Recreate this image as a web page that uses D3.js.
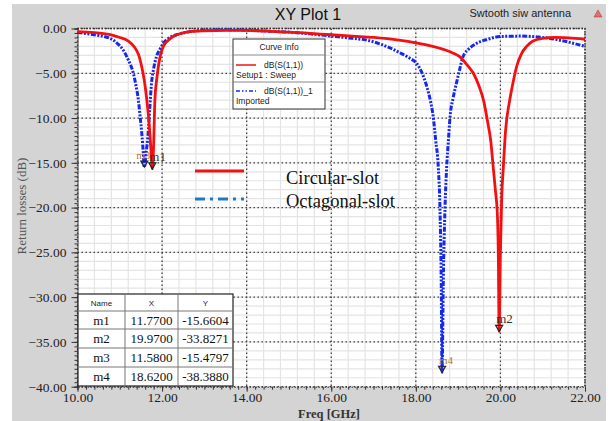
<!DOCTYPE html>
<html>
<head>
<meta charset="utf-8">
<script src="https://cdn.jsdelivr.net/npm/d3@7"></script>
<style>
  body { margin: 0; background: #fff; }
  svg { display: block; }
</style>
</head>
<body>
<div id="chart"></div>
<script>
// Circular-slot (red) return loss, dB
const circFreq = [10.0, 10.4, 10.8, 11.0, 11.2, 11.35, 11.45, 11.52, 11.58, 11.64, 11.70, 11.74, 11.77, 11.80, 11.83, 11.87, 11.91, 11.96, 12.03, 12.15, 12.26, 12.45, 12.66, 13.0, 13.5, 14.0, 14.5, 15.0, 15.5, 16.0, 16.5, 17.0, 17.6, 18.0, 18.4, 18.7, 18.9, 19.05, 19.2, 19.36, 19.5, 19.6, 19.7, 19.77, 19.83, 19.88, 19.93, 19.95, 19.97, 20.0, 20.03, 20.07, 20.12, 20.22, 20.3, 20.38, 20.5, 20.62, 20.77, 21.0, 21.3, 21.6, 22.0];
const circDb = [-0.35, -0.45, -0.7, -1.0, -1.4, -2.1, -3.0, -4.3, -5.8, -8.0, -11.0, -13.8, -15.66, -13.0, -8.0, -5.8, -4.3, -3.0, -2.0, -1.3, -0.9, -0.55, -0.35, -0.25, -0.2, -0.22, -0.3, -0.4, -0.55, -0.7, -0.85, -1.0, -1.3, -1.6, -2.0, -2.4, -2.8, -3.2, -4.0, -5.0, -6.5, -8.0, -10.5, -12.5, -15.5, -18.0, -21.0, -25.0, -33.83, -25.0, -19.0, -15.4, -11.5, -8.0, -6.0, -4.3, -2.8, -2.0, -1.4, -1.1, -1.0, -1.05, -1.2];

// Octagonal-slot (blue) return loss, dB
const octFreq = [10.0, 10.4, 10.77, 10.95, 11.08, 11.2, 11.32, 11.38, 11.44, 11.48, 11.52, 11.55, 11.58, 11.62, 11.67, 11.71, 11.75, 11.80, 11.87, 11.95, 12.03, 12.15, 12.34, 12.5, 12.66, 13.0, 13.5, 14.0, 14.5, 15.0, 15.5, 16.0, 16.5, 16.84, 17.2, 17.62, 17.85, 18.02, 18.15, 18.26, 18.35, 18.41, 18.47, 18.53, 18.57, 18.60, 18.62, 18.65, 18.69, 18.73, 18.77, 18.81, 18.88, 18.96, 19.04, 19.12, 19.25, 19.44, 19.7, 19.99, 20.5, 21.0, 21.5, 22.0];
const octDb = [-0.45, -0.7, -1.1, -1.7, -2.4, -3.5, -5.0, -6.3, -8.0, -9.8, -11.7, -13.5, -15.48, -14.0, -11.7, -8.8, -6.1, -4.5, -3.1, -2.3, -1.65, -1.1, -0.7, -0.5, -0.35, -0.2, -0.15, -0.2, -0.3, -0.4, -0.6, -0.85, -1.1, -1.3, -1.8, -2.7, -3.3, -3.9, -5.0, -6.5, -8.2, -9.8, -12.5, -15.4, -20.0, -28.0, -38.39, -28.0, -20.0, -15.4, -12.5, -9.8, -7.8, -6.1, -4.5, -3.1, -2.3, -1.65, -1.2, -0.9, -0.85, -1.0, -1.4, -2.0];

// markers
const markerNames = ["m1", "m2", "m3", "m4"];
const markerX = [11.77, 19.97, 11.58, 18.62];
const markerY = [-15.6604, -33.8271, -15.4797, -38.3880];

const xTicks = [10, 12, 14, 16, 18, 20, 22];
const yTicks = [0, -5, -10, -15, -20, -25, -30, -35, -40];

const W = 611, H = 421;
const svg = d3.select("#chart").append("svg")
    .attr("width", W).attr("height", H);

// grey panel
svg.append("rect").attr("x", 12).attr("y", 4).attr("width", 594).attr("height", 417)
    .attr("fill", "#d4d4d4");

const x = d3.scaleLinear().domain([10, 22]).range([77.5, 585]);
const y = d3.scaleLinear().domain([-40, 0]).range([386.7, 28.5]);

// plot area
svg.append("rect")
    .attr("x", x(10)).attr("y", y(0))
    .attr("width", x(22) - x(10)).attr("height", y(-40) - y(0))
    .attr("fill", "#fff");

// minor grid
const minorX = d3.range(10, 22.001, 0.4);
const minorY = d3.range(-40, 0.001, 1);
svg.append("g").selectAll("line").data(minorX).enter().append("line")
    .attr("x1", d => x(d)).attr("x2", d => x(d))
    .attr("y1", y(0)).attr("y2", y(-40))
    .attr("stroke", "#e4e4e4").attr("stroke-width", 1.2);
svg.append("g").selectAll("line").data(minorY).enter().append("line")
    .attr("x1", x(10)).attr("x2", x(22))
    .attr("y1", d => y(d)).attr("y2", d => y(d))
    .attr("stroke", "#e4e4e4").attr("stroke-width", 1.2);

// major grid (dotted)
svg.append("g").selectAll("line").data(xTicks).enter().append("line")
    .attr("x1", d => x(d)).attr("x2", d => x(d))
    .attr("y1", y(0)).attr("y2", y(-40))
    .attr("stroke", "#444").attr("stroke-width", 1.3)
    .attr("stroke-dasharray", "1.5,2.5");
svg.append("g").selectAll("line").data(yTicks).enter().append("line")
    .attr("x1", x(10)).attr("x2", x(22))
    .attr("y1", d => y(d)).attr("y2", d => y(d))
    .attr("stroke", "#444").attr("stroke-width", 1.3)
    .attr("stroke-dasharray", "1.5,2.5");

// axes
const yAxis = svg.append("g")
    .attr("transform", `translate(${x(10)},0)`)
    .call(d3.axisLeft(y).tickValues(d3.range(-40, 0.001, 0.5)).tickSize(3).tickFormat(""));
yAxis.select(".domain").attr("stroke", "#333");
yAxis.selectAll(".tick line").attr("stroke", "#333");
const yMajor = svg.append("g")
    .attr("transform", `translate(${x(10)},0)`)
    .call(d3.axisLeft(y).tickValues(yTicks).tickSize(6).tickFormat(d3.format(".2f")));
yMajor.select(".domain").remove();
yMajor.selectAll(".tick line").attr("stroke", "#333");
yMajor.selectAll("text")
    .attr("font-family", "Liberation Serif, serif").attr("font-size", 13.5)
    .attr("fill", "#222").attr("x", -11);

const xAxis = svg.append("g")
    .attr("transform", `translate(0,${y(-40)})`)
    .call(d3.axisBottom(x).tickValues(d3.range(10, 22.001, 0.2)).tickSize(3).tickFormat(""));
xAxis.select(".domain").attr("stroke", "#333").attr("stroke-dasharray", "1.5,1.5");
xAxis.selectAll(".tick line").attr("stroke", "#333");
const xMajor = svg.append("g")
    .attr("transform", `translate(0,${y(-40)})`)
    .call(d3.axisBottom(x).tickValues(xTicks).tickSize(5).tickFormat(d3.format(".2f")));
xMajor.select(".domain").remove();
xMajor.selectAll(".tick line").attr("stroke", "#333");
xMajor.selectAll("text")
    .attr("font-family", "Liberation Serif, serif").attr("font-size", 13.5)
    .attr("fill", "#222").attr("y", 5.5);

// dotted top / right border
svg.append("path")
    .attr("d", `M${x(10)},${y(0)}H${x(22)}V${y(-40)}`)
    .attr("fill", "none").attr("stroke", "#333").attr("stroke-width", 1.5)
    .attr("stroke-dasharray", "1.5,1.5");

// curves
const line = d3.line().x(d => x(d[0])).y(d => y(d[1])).curve(d3.curveMonotoneX);
const circ = circFreq.map((f, i) => [f, circDb[i]]);
const oct = octFreq.map((f, i) => [f, octDb[i]]);

svg.append("path").datum(oct).attr("d", line)
    .attr("fill", "none").attr("stroke", "#1428f0").attr("stroke-width", 3)
    .attr("stroke-dasharray", "5,1.5,2,1.5,2,1.5");
svg.append("path").datum(circ).attr("d", line)
    .attr("fill", "none").attr("stroke", "#f21010").attr("stroke-width", 2.8);

// markers
const mk = svg.append("g");
const labelDx = { m1: -3, m2: -3, m3: -8, m4: -3 };
markerNames.forEach((name, i) => {
    const px = x(markerX[i]), py = y(markerY[i]);
    mk.append("path")
        .attr("d", `M${px - 3.5},${py - 6}L${px + 3.5},${py - 6}L${px},${py}Z`)
        .attr("fill", "none").attr("stroke", "#222").attr("stroke-width", 1.2);
    const small = name === "m3" || name === "m4";
    mk.append("text")
        .attr("x", px + labelDx[name]).attr("y", py - 8)
        .attr("font-family", "Liberation Serif, serif")
        .attr("font-size", small ? 11 : 13)
        .attr("fill", small ? "#a87838" : "#333")
        .text(name);
});

// title
svg.append("text").attr("x", 308).attr("y", 20)
    .attr("text-anchor", "middle")
    .attr("font-family", "Liberation Sans, Arial, sans-serif").attr("font-size", 16)
    .attr("fill", "#111").text("XY Plot 1");
svg.append("text").attr("x", 571).attr("y", 17)
    .attr("text-anchor", "end")
    .attr("font-family", "Liberation Sans, Arial, sans-serif").attr("font-size", 11)
    .attr("fill", "#222").text("Swtooth siw antenna");
svg.append("path").attr("d", "M598,10L602,17L594,17Z")
    .attr("fill", "#e07070").attr("stroke", "#b04040").attr("stroke-width", 0.6);

// axis titles
svg.append("text")
    .attr("transform", "translate(26,206) rotate(-90)")
    .attr("text-anchor", "middle")
    .attr("font-family", "Liberation Serif, serif").attr("font-size", 13)
    .attr("fill", "#555").text("Return losses (dB)");
svg.append("text").attr("x", 329).attr("y", 417.5)
    .attr("text-anchor", "middle")
    .attr("font-family", "Liberation Serif, serif").attr("font-size", 12.5)
    .attr("font-weight", "bold").attr("fill", "#333").text("Freq [GHz]");

// Curve Info box
const ci = svg.append("g").attr("font-family", "Liberation Sans, Arial, sans-serif")
    .attr("font-size", 8.5).attr("fill", "#222");
ci.append("rect").attr("x", 233).attr("y", 39).attr("width", 92).attr("height", 70)
    .attr("fill", "#fff").attr("stroke", "#333").attr("stroke-width", 1);
ci.append("line").attr("x1", 233).attr("x2", 325).attr("y1", 55).attr("y2", 55)
    .attr("stroke", "#888");
ci.append("line").attr("x1", 233).attr("x2", 325).attr("y1", 82).attr("y2", 82)
    .attr("stroke", "#888");
ci.append("text").attr("x", 279).attr("y", 50).attr("text-anchor", "middle").text("Curve Info");
ci.append("line").attr("x1", 236).attr("x2", 256).attr("y1", 65).attr("y2", 65)
    .attr("stroke", "#f21010").attr("stroke-width", 1.5);
ci.append("text").attr("x", 264).attr("y", 68).text("dB(S(1,1))");
ci.append("text").attr("x", 236).attr("y", 78).text("Setup1 : Sweep");
ci.append("line").attr("x1", 236).attr("x2", 256).attr("y1", 91).attr("y2", 91)
    .attr("stroke", "#1428f0").attr("stroke-width", 1.5).attr("stroke-dasharray", "4,2,1.5,2,1.5,2");
ci.append("text").attr("x", 264).attr("y", 94).text("dB(S(1,1))_1");
ci.append("text").attr("x", 236).attr("y", 104).text("Imported");

// annotation legend
svg.append("line").attr("x1", 195).attr("x2", 244).attr("y1", 171).attr("y2", 171)
    .attr("stroke", "#f21010").attr("stroke-width", 3);
svg.append("line").attr("x1", 195).attr("x2", 244).attr("y1", 199).attr("y2", 199)
    .attr("stroke", "#1e78c8").attr("stroke-width", 3).attr("stroke-dasharray", "10,5,3,5");
svg.append("text").attr("x", 286).attr("y", 184)
    .attr("font-family", "Liberation Serif, serif").attr("font-size", 18.5)
    .attr("fill", "#111").text("Circular-slot");
svg.append("text").attr("x", 286).attr("y", 207)
    .attr("font-family", "Liberation Serif, serif").attr("font-size", 18.5)
    .attr("fill", "#111").text("Octagonal-slot");

// marker table
const colX = [78, 125, 178, 233];
const rowY = [294, 311, 329, 348, 367, 386];
const tbl = svg.append("g");
tbl.append("rect").attr("x", colX[0]).attr("y", rowY[0])
    .attr("width", colX[3] - colX[0]).attr("height", rowY[5] - rowY[0])
    .attr("fill", "#fff").attr("stroke", "#222").attr("stroke-width", 1.2);
colX.slice(1, 3).forEach(cx => tbl.append("line")
    .attr("x1", cx).attr("x2", cx).attr("y1", rowY[0]).attr("y2", rowY[5])
    .attr("stroke", "#777"));
rowY.slice(1, 5).forEach(ry => tbl.append("line")
    .attr("x1", colX[0]).attr("x2", colX[3]).attr("y1", ry).attr("y2", ry)
    .attr("stroke", "#777"));
const headers = ["Name", "X", "Y"];
headers.forEach((h, j) => tbl.append("text")
    .attr("x", (colX[j] + colX[j + 1]) / 2).attr("y", 306)
    .attr("text-anchor", "middle")
    .attr("font-family", "Liberation Sans, Arial, sans-serif").attr("font-size", 8)
    .attr("fill", "#222").text(h));
markerNames.forEach((name, i) => {
    const cells = [name, markerX[i].toFixed(4), markerY[i].toFixed(4)];
    cells.forEach((c, j) => tbl.append("text")
        .attr("x", (colX[j] + colX[j + 1]) / 2)
        .attr("y", (rowY[i + 1] + rowY[i + 2]) / 2 + 4.5)
        .attr("text-anchor", "middle")
        .attr("font-family", "Liberation Serif, serif").attr("font-size", 13)
        .attr("fill", "#111").text(c));
});
</script>
</body>
</html>
